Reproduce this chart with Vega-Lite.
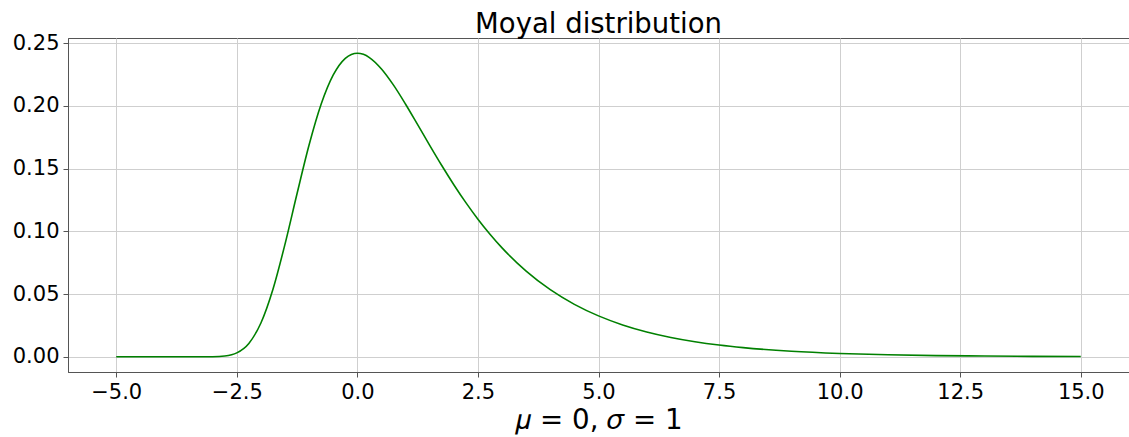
{
  "$schema": "https://vega.github.io/schema/vega-lite/v6.json",
  "width": 1061,
  "height": 334,
  "autosize": {"type": "none"},
  "padding": {"left": 68, "top": 38, "right": 0, "bottom": 65},
  "background": "white",
  "config": {
    "font": "DejaVu Sans",
    "view": {"stroke": "#555555", "strokeWidth": 1},
    "axis": {
      "domainColor": "#555555",
      "tickColor": "#555555",
      "tickSize": 5,
      "labelFont": "DejaVu Sans",
      "labelFontSize": 21,
      "labelColor": "black",
      "gridColor": "#cfcfcf",
      "gridWidth": 1,
      "titleFont": "DejaVu Sans",
      "titleColor": "black",
      "titleFontWeight": "normal"
    }
  },
  "title": {
    "text": "Moyal distribution",
    "font": "DejaVu Sans",
    "fontSize": 27.5,
    "fontWeight": "normal",
    "color": "black",
    "anchor": "middle",
    "offset": -6
  },
  "data": {
    "values": [
      {"x": -5.0, "pdf": 0.0},
      {"x": -4.5, "pdf": 0.0},
      {"x": -4.0, "pdf": 0.0},
      {"x": -3.75, "pdf": 0.0},
      {"x": -3.5, "pdf": 0.00000015},
      {"x": -3.25, "pdf": 0.0000051},
      {"x": -3.0, "pdf": 0.0000778},
      {"x": -2.75, "pdf": 0.000632},
      {"x": -2.5, "pdf": 0.00315},
      {"x": -2.25, "pdf": 0.010698},
      {"x": -2.0, "pdf": 0.02696},
      {"x": -1.75, "pdf": 0.05387},
      {"x": -1.5, "pdf": 0.08984},
      {"x": -1.25, "pdf": 0.13015},
      {"x": -1.0, "pdf": 0.16897},
      {"x": -0.75, "pdf": 0.20141},
      {"x": -0.5, "pdf": 0.22463},
      {"x": -0.25, "pdf": 0.23789},
      {"x": -0.125, "pdf": 0.24099},
      {"x": 0.0, "pdf": 0.24197},
      {"x": 0.125, "pdf": 0.24106},
      {"x": 0.25, "pdf": 0.23852},
      {"x": 0.5, "pdf": 0.22941},
      {"x": 0.75, "pdf": 0.21651},
      {"x": 1.0, "pdf": 0.20132},
      {"x": 1.25, "pdf": 0.18504},
      {"x": 1.5, "pdf": 0.16855},
      {"x": 1.75, "pdf": 0.15246},
      {"x": 2.0, "pdf": 0.13716},
      {"x": 2.25, "pdf": 0.12287},
      {"x": 2.5, "pdf": 0.1097},
      {"x": 2.75, "pdf": 0.0977},
      {"x": 3.0, "pdf": 0.08683},
      {"x": 3.5, "pdf": 0.06829},
      {"x": 4.0, "pdf": 0.0535},
      {"x": 4.5, "pdf": 0.04182},
      {"x": 5.0, "pdf": 0.03264},
      {"x": 5.5, "pdf": 0.02545},
      {"x": 6.0, "pdf": 0.01984},
      {"x": 6.5, "pdf": 0.01546},
      {"x": 7.0, "pdf": 0.01204},
      {"x": 7.5, "pdf": 0.00938},
      {"x": 8.0, "pdf": 0.00731},
      {"x": 9.0, "pdf": 0.00443},
      {"x": 10.0, "pdf": 0.002688},
      {"x": 11.0, "pdf": 0.00163},
      {"x": 12.0, "pdf": 0.000989},
      {"x": 13.0, "pdf": 0.0006},
      {"x": 14.0, "pdf": 0.000364},
      {"x": 15.0, "pdf": 0.000221}
    ]
  },
  "mark": {"type": "line", "color": "#008000", "strokeWidth": 1.6, "interpolate": "monotone"},
  "encoding": {
    "x": {
      "field": "x",
      "type": "quantitative",
      "scale": {"domain": [-6, 16], "nice": false, "zero": false},
      "axis": {
        "values": [-5, -2.5, 0, 2.5, 5, 7.5, 10, 12.5, 15],
        "format": ".1f",
        "labelPadding": 4,
        "title": "𝜇 = 0, 𝜎 = 1",
        "titleFontSize": 27.7,
        "titlePadding": 4
      }
    },
    "y": {
      "field": "pdf",
      "type": "quantitative",
      "scale": {"domain": [-0.0121, 0.2541], "nice": false, "zero": false},
      "axis": {
        "values": [0, 0.05, 0.1, 0.15, 0.2, 0.25],
        "format": ".2f",
        "labelPadding": 4,
        "title": null
      }
    }
  }
}
